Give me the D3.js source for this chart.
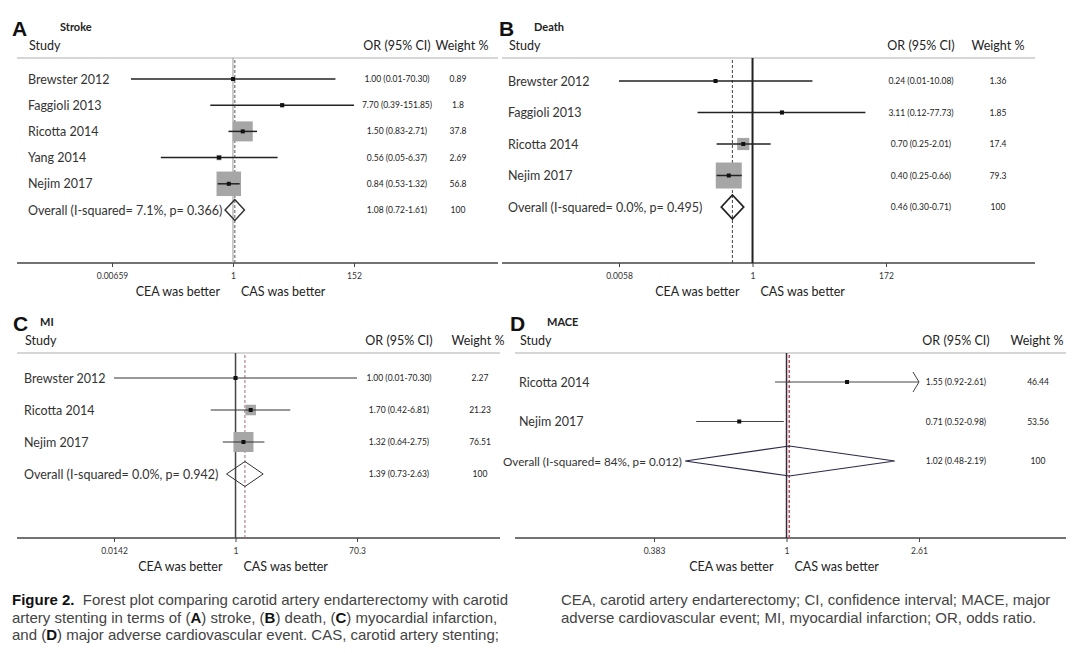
<!DOCTYPE html>
<html lang="en">
  <head>
    <meta charset="UTF-8" />
    <title>Forest plots</title>
    <script src="https://d3js.org/d3.v7.min.js"></script>
    <style>
      body { margin: 0; background: #fff; }
      text { font-family: Lato, "Open Sans", sans-serif; fill: #222; }
      .cap { font-family: "Liberation Sans", Arial, sans-serif; fill: #444; font-size: 15px; }
      .capb { font-family: "Liberation Sans Narrow", "Liberation Sans", sans-serif; font-weight: bold; fill: #111; }
    </style>
  </head>
  <body>
    <script>
      // ---- data ----
      // A: stroke
      const strokeStudies = ["Brewster 2012", "Faggioli 2013", "Ricotta 2014", "Yang 2014", "Nejim 2017", "Overall (I-squared= 7.1%, p= 0.366)"];
      const strokeOR = [1.0, 7.7, 1.5, 0.56, 0.84, 1.08];
      const strokeLow = [0.0145, 0.39, 0.83, 0.05, 0.53, 0.72];
      const strokeHigh = [70.3, 151.85, 2.71, 6.37, 1.32, 1.61];
      const strokeWeight = [0.89, 1.8, 37.8, 2.69, 56.8, 100];
      const strokeTicks = [0.00659, 1, 152];

      // B: death
      const deathStudies = ["Brewster 2012", "Faggioli 2013", "Ricotta 2014", "Nejim 2017", "Overall (I-squared= 0.0%, p= 0.495)"];
      const deathOR = [0.24, 3.11, 0.7, 0.4, 0.46];
      const deathLow = [0.0058, 0.12, 0.25, 0.25, 0.3];
      const deathHigh = [10.08, 77.73, 2.01, 0.66, 0.71];
      const deathWeight = [1.36, 1.85, 17.4, 79.3, 100];
      const deathTicks = [0.0058, 1, 172];

      // C: myocardial infarction
      const miStudies = ["Brewster 2012", "Ricotta 2014", "Nejim 2017", "Overall (I-squared= 0.0%, p= 0.942)"];
      const miOR = [1.0, 1.7, 1.32, 1.39];
      const miLow = [0.0142, 0.42, 0.64, 0.73];
      const miHigh = [70.3, 6.81, 2.75, 2.63];
      const miWeight = [2.27, 21.23, 76.51, 100];
      const miTicks = [0.0142, 1, 70.3];

      // D: MACE
      const maceStudies = ["Ricotta 2014", "Nejim 2017", "Overall (I-squared= 84%, p= 0.012)"];
      const maceOR = [1.55, 0.71, 1.02];
      const maceLow = [0.92, 0.52, 0.48];
      const maceHigh = [2.61, 0.98, 2.19];
      const maceWeight = [46.44, 53.56, 100];
      const maceTicks = [0.383, 1, 2.61];

      const width = 1080, height = 653;
      const svg = d3.select("body").append("svg")
        .attr("width", width).attr("height", height);

      const f2 = d3.format(".2f");

      // ---- layout per panel ----
      const panels = [
        { letter: "A", title: "Stroke", studies: strokeStudies, or: strokeOR, lo: strokeLow, hi: strokeHigh, w: strokeWeight, ticks: strokeTicks,
          left: 17, right: 498, top: 58, axisY: 263, xr: [112, 354], rows: [79, 210], letterX: 12, titleX: 60, labelX: 28,
          orX: 397, wX: 458, wHead: 462, boxMax: 24.5, diamH: 10.5,
          nullStroke: "#999", nullW: 1, ovStroke: "#555", ovW: 1, ciStroke: "#222", ciW: 1.5, diamStroke: "#333", diamW: 1.5 },
        { letter: "B", title: "Death", studies: deathStudies, or: deathOR, lo: deathLow, hi: deathHigh, w: deathWeight, ticks: deathTicks,
          left: 502, right: 1035, top: 58, axisY: 263, xr: [619, 886], rows: [81, 207], letterX: 499, titleX: 534, labelX: 508,
          orX: 921, wX: 998, wHead: 998, boxMax: 26, diamH: 12,
          nullStroke: "#222", nullW: 2, ovStroke: "#444", ovW: 1, ciStroke: "#222", ciW: 1.5, diamStroke: "#222", diamW: 1.8 },
        { letter: "C", title: "MI", studies: miStudies, or: miOR, lo: miLow, hi: miHigh, w: miWeight, ticks: miTicks,
          left: 17, right: 500, top: 353, axisY: 538, xr: [114, 357], rows: [378, 474], letterX: 13, titleX: 40, labelX: 24,
          orX: 399, wX: 480, wHead: 478, boxMax: 20, diamH: 12.5,
          nullStroke: "#444", nullW: 1.5, ovStroke: "#a06878", ovW: 1, ciStroke: "#333", ciW: 1, diamStroke: "#333", diamW: 1 },
        { letter: "D", title: "MACE", studies: maceStudies, or: maceOR, lo: maceLow, hi: maceHigh, w: maceWeight, ticks: maceTicks,
          left: 515, right: 1066, top: 353, axisY: 538, xr: [654, 919], rows: [382, 461], letterX: 510, titleX: 547, labelX: 519,
          orX: 956, wX: 1038, wHead: 1037, boxMax: 0, diamH: 15, arrowAtMax: true, overallX: 503, overallSize: "11.7px",
          nullStroke: "#3a2635", nullW: 1.5, ovStroke: "#c0505a", ovW: 1.5, ciStroke: "#444", ciW: 1, diamStroke: "#2a2a48", diamW: 1.2 }
      ];

      panels.forEach(p => {
        const g = svg.append("g");
        const x = d3.scaleLog().domain([p.ticks[0], p.ticks[2]]).range(p.xr);
        const y = d3.scalePoint().domain(p.studies).range(p.rows);
        const box = d3.scaleSqrt().domain([0, d3.max(p.w.slice(0, -1))]).range([0, p.boxMax]);
        const n = p.studies.length;
        const rows = p.studies.map((s, i) => ({ s, or: p.or[i], lo: p.lo[i], hi: p.hi[i], w: p.w[i], overall: i === n - 1 }));

        // headers
        g.append("text").attr("x", p.letterX).attr("y", p.top - 22)
          .style("font-family", "'Liberation Sans', Arial, sans-serif").style("font-weight", "bold")
          .style("font-size", "21px").style("fill", "#111").text(p.letter);
        g.append("text").attr("x", p.titleX).attr("y", p.top - 27)
          .style("font-weight", "bold").style("font-size", "11px").text(p.title);
        g.append("text").attr("x", p.labelX + 1).attr("y", p.top - 8).style("font-size", "12.5px").text("Study");
        g.append("text").attr("x", p.orX).attr("y", p.top - 8).attr("text-anchor", "middle").style("font-size", "12.5px").text("OR (95% CI)");
        g.append("text").attr("x", p.wHead).attr("y", p.top - 8).attr("text-anchor", "middle").style("font-size", "12.5px").text("Weight %");

        // header rule and axis line
        g.append("line").attr("x1", p.left).attr("x2", p.right).attr("y1", p.top).attr("y2", p.top)
          .attr("stroke", "#c8c8c8").attr("stroke-width", 1.5);
        g.append("line").attr("x1", p.left).attr("x2", p.right).attr("y1", p.axisY).attr("y2", p.axisY)
          .attr("stroke", "#444").attr("stroke-width", 1.5);

        // axis ticks
        const ax = g.append("g").attr("transform", `translate(0,${p.axisY})`)
          .call(d3.axisBottom(x).tickValues(p.ticks).tickSize(4).tickPadding(6).tickFormat(d => String(d)));
        ax.select(".domain").remove();
        ax.selectAll(".tick line").attr("stroke", "#444");
        ax.selectAll("text").style("font-size", "8.5px").style("fill", "#333").style("font-family", "Lato, sans-serif");

        // null line and overall dashed line
        g.append("line").attr("x1", x(1)).attr("x2", x(1)).attr("y1", p.top).attr("y2", p.axisY)
          .attr("stroke", p.nullStroke).attr("stroke-width", p.nullW);
        g.append("line").attr("x1", x(p.or[n - 1])).attr("x2", x(p.or[n - 1])).attr("y1", p.top + 2).attr("y2", p.axisY)
          .attr("stroke", p.ovStroke).attr("stroke-width", p.ovW).attr("stroke-dasharray", "3,2");

        // study rows
        const studies = rows.filter(d => !d.overall);
        g.selectAll("rect.box").data(studies).join("rect").attr("class", "box")
          .attr("x", d => x(d.or) - box(d.w) / 2).attr("y", d => y(d.s) - box(d.w) / 2)
          .attr("width", d => box(d.w)).attr("height", d => box(d.w))
          .attr("fill", "#a6a6a6");
        g.selectAll("line.ci").data(studies).join("line").attr("class", "ci")
          .attr("x1", d => x(d.lo)).attr("x2", d => x(d.hi))
          .attr("y1", d => y(d.s)).attr("y2", d => y(d.s))
          .attr("stroke", p.ciStroke).attr("stroke-width", p.ciW);
        g.selectAll("rect.pt").data(studies).join("rect").attr("class", "pt")
          .attr("x", d => x(d.or) - 2).attr("y", d => y(d.s) - 2)
          .attr("width", 4).attr("height", 4).attr("fill", "#111");
        if (p.arrowAtMax) {
          studies.filter(d => d.hi >= p.ticks[2]).forEach(d => {
            g.append("path")
              .attr("d", `M${x(d.hi) - 6},${y(d.s) - 10}L${x(d.hi)},${y(d.s)}L${x(d.hi) - 6},${y(d.s) + 10}`)
              .attr("fill", "none").attr("stroke", p.ciStroke).attr("stroke-width", p.ciW);
          });
        }

        // overall diamond
        const ov = rows[n - 1];
        const cy = y(ov.s);
        g.append("path")
          .attr("d", `M${x(ov.lo)},${cy}L${x(ov.or)},${cy - p.diamH}L${x(ov.hi)},${cy}L${x(ov.or)},${cy + p.diamH}Z`)
          .attr("fill", "none").attr("stroke", p.diamStroke).attr("stroke-width", p.diamW);

        // text columns
        g.selectAll("text.study").data(rows).join("text").attr("class", "study")
          .attr("x", d => (d.overall && p.overallX) ? p.overallX : p.labelX)
          .attr("y", d => y(d.s) + 4.5)
          .style("font-size", d => (d.overall && p.overallSize) ? p.overallSize : "12.5px")
          .style("fill", "#333").text(d => d.s);
        g.selectAll("text.ortxt").data(rows).join("text").attr("class", "ortxt")
          .attr("x", p.orX).attr("y", d => y(d.s) + 3).attr("text-anchor", "middle")
          .style("font-size", "8.5px").text(d => `${f2(d.or)} (${f2(d.lo)}-${f2(d.hi)})`);
        g.selectAll("text.wtxt").data(rows).join("text").attr("class", "wtxt")
          .attr("x", p.wX).attr("y", d => y(d.s) + 3).attr("text-anchor", "middle")
          .style("font-size", "8.5px").text(d => String(d.w));

        // direction labels
        g.append("text").attr("x", x(1) - 13).attr("y", p.axisY + 33).attr("text-anchor", "end")
          .style("font-size", "12.5px").text("CEA was better");
        g.append("text").attr("x", x(1) + 8).attr("y", p.axisY + 33)
          .style("font-size", "12.5px").text("CAS was better");
      });

      // ---- caption ----
      const cap = svg.append("g");
      const capLeft = [
        [["Figure 2.", true], ["  Forest plot comparing carotid artery endarterectomy with carotid", false]],
        [["artery stenting in terms of (", false], ["A", true], [") stroke, (", false], ["B", true], [") death, (", false], ["C", true], [") myocardial infarction,", false]],
        [["and (", false], ["D", true], [") major adverse cardiovascular event. CAS, carotid artery stenting;", false]]
      ];
      const capRight = [
        "CEA, carotid artery endarterectomy; CI, confidence interval; MACE, major",
        "adverse cardiovascular event; MI, myocardial infarction; OR, odds ratio."
      ];
      capLeft.forEach((parts, i) => {
        const t = cap.append("text").attr("class", "cap").attr("x", 12).attr("y", 605 + i * 17.5)
          .attr("xml:space", "preserve");
        parts.forEach(([s, b]) => t.append("tspan").attr("class", b ? "capb" : null).text(s));
      });
      capRight.forEach((s, i) => {
        cap.append("text").attr("class", "cap").attr("x", 561).attr("y", 605 + i * 17.5).text(s);
      });
    </script>
  </body>
</html>
